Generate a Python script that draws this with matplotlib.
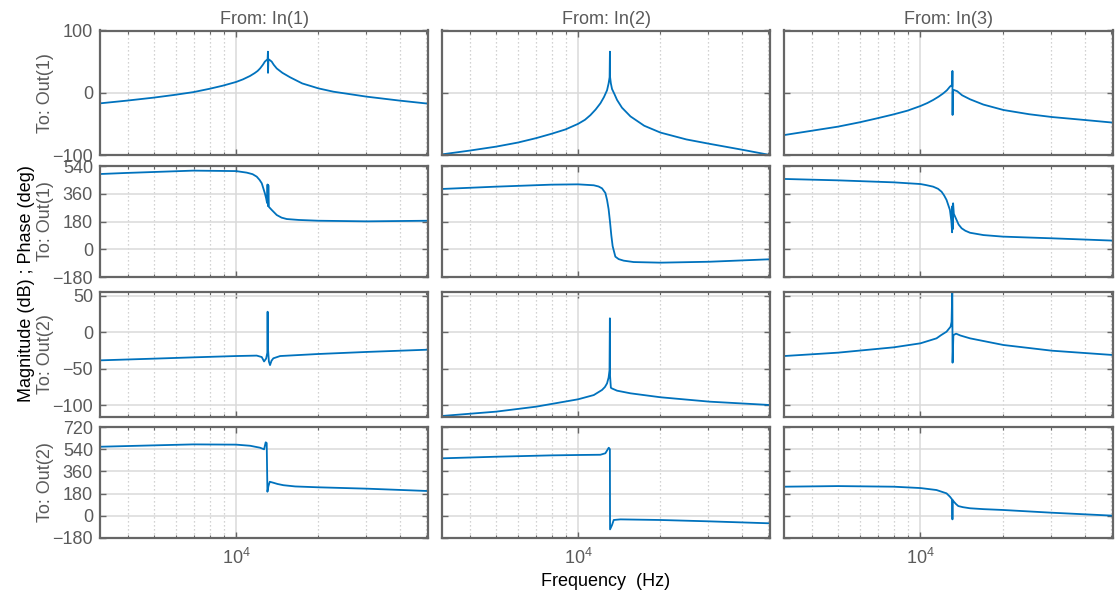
import matplotlib
matplotlib.use("Agg")
import matplotlib.pyplot as plt
from matplotlib.ticker import LogLocator, NullFormatter, FixedLocator, LogFormatterSciNotation

plt.rcParams['font.family'] = ['Liberation Sans', 'DejaVu Sans']
plt.rcParams['mathtext.fontset'] = 'custom'
plt.rcParams['mathtext.rm'] = 'Liberation Sans'

# ---- column / row labels ----
inputs = ['From: In(1)', 'From: In(2)', 'From: In(3)']
outputs = ['To: Out(1)', 'To: Out(1)', 'To: Out(2)', 'To: Out(2)']

# ---- Out(1) magnitude (dB) ----
f_mag11 = [3170, 3963, 4969, 5933, 6970, 7980, 8932, 10000, 10600, 11260, 11700, 12000, 12250,
           12550, 12760, 12950, 13060, 13095, 13105, 13150, 13300, 13520, 13750, 14110, 14800,
           15800, 17500, 20080, 22780, 30200, 40040, 50700]
mag11 = [-17, -12.7, -7.9, -3.5, 1.0, 6.3, 11.3, 17.3, 21.5, 27, 31.5, 35, 39,
         45, 50, 52.5, 54, 66, 32, 54, 52.5, 50, 45, 39, 32,
         24.8, 15, 7, 1.7, -6.3, -12.7, -17.5]

f_mag12 = [3165, 3987, 4995, 6013, 7004, 7980, 8984, 10000, 10600, 11100, 11600, 12080, 12450,
           12780, 12950, 13060, 13095, 13105, 13200, 13330, 13600, 13910, 14500, 15580, 17500,
           20080, 25000, 30370, 40600, 50700]
mag12 = [-99, -93, -86.6, -80, -73, -66, -59, -50, -43.5, -36, -27, -17, -7,
         4, 15, 25, 66, 26, 15, 6, -2, -11.6, -24, -38, -53,
         -64, -75, -82, -92, -100]

f_mag13 = [3165, 3952, 4981, 5984, 6951, 7980, 8958, 10000, 10600, 11130, 11650, 12120, 12500,
           12820, 13000, 13080, 13095, 13110, 13130, 13250, 13630, 14200, 15190, 17000, 20130,
           25000, 30290, 40500, 50700]
mag13 = [-68, -61.4, -54.5, -47.5, -41, -34.7, -28.8, -21.3, -16.5, -11.6, -6.3, -1, 4,
         9.8, 12, 10, 35, -35.7, 2, 4.5, 2.5, -4, -10.5, -19, -27.7,
         -34.5, -39, -44, -48]

# ---- Out(1) phase (deg) ----
f_ph11 = [3170, 3963, 4969, 6970, 10000, 10945, 11500, 11911, 12200, 12430, 12760, 12900, 13000,
          13050, 13100, 13140, 13200, 13523, 14110, 14700, 15355, 17000, 20077, 30200, 50700]
ph11 = [488, 495, 501, 510, 507, 497, 487, 471, 450, 428, 363, 330, 300,
        420, 280, 415, 275, 255, 222, 205, 196, 190, 185, 181, 185]

f_ph12 = [3165, 4995, 7980, 10000, 11420, 11900, 12250, 12600, 12780, 12950, 13100, 13250, 13400,
          13710, 14100, 14710, 16000, 20080, 30370, 50700]
ph12 = [391, 406, 419, 421, 415, 407, 395, 365, 320, 260, 180, 90, 20,
        -48, -64, -74, -83, -87, -81, -65]

f_ph13 = [3165, 4981, 7980, 10000, 10500, 11130, 11600, 11950, 12200, 12460, 12820, 12980, 13060,
          13090, 13120, 13170, 13250, 13560, 13800, 14150, 14600, 15190, 17000, 20000, 25000,
          30300, 50700]
ph13 = [456, 447, 434, 423, 416, 406, 392, 373, 350, 320, 255, 180, 110,
        280, 130, 298, 230, 190, 160, 136, 120, 107, 92, 82, 76,
        71, 56]

# ---- Out(2) magnitude (dB) ----
f_mag21 = [3170, 4969, 6970, 10000, 11911, 12430, 12675, 12900, 13030, 13060, 13090, 13200,
           13330, 13500, 13712, 14520, 20077, 30200, 50700]
mag21 = [-38.5, -36.2, -34.4, -32.6, -32, -34, -40, -36, -28, 28, -20, -40,
         -45, -39, -35.7, -32.6, -29.8, -27, -23.9]

f_mag22 = [3165, 4995, 7004, 10000, 11420, 12250, 12550, 12780, 12950, 13050, 13090, 13110,
           13200, 13330, 13910, 15580, 20080, 30370, 50700]
mag22 = [-114.6, -108.7, -101.9, -91.8, -86, -79, -75, -70, -62, -52, 19, -60,
         -76, -77, -80, -83.6, -89, -95, -99.6]

f_mag23 = [3165, 4981, 7980, 10000, 11450, 11900, 12460, 12890, 13000, 13080, 13110, 13200,
           13500, 14000, 15190, 20130, 30290, 50700]
mag23 = [-32.6, -28, -20.7, -15.2, -8.4, -4, 0.7, 7.5, 14, 60, -41.7, -4,
         -2, -4.5, -8.4, -17.5, -25.3, -31.2]

# ---- Out(2) phase (deg) ----
f_ph21 = [3170, 4969, 6970, 10000, 11259, 12253, 12675, 12850, 12960, 13040, 13150, 13300,
          13712, 14200, 14935, 16500, 20077, 30200, 50700]
ph21 = [560, 571, 579, 577, 568, 552, 539, 596, 590, 195, 240, 276,
        268, 258, 248, 238, 231, 220, 201]

f_ph22 = [3165, 4995, 7980, 10000, 12080, 12600, 12966, 13090, 13110, 13330, 13523, 14310,
          20080, 30370, 50700]
ph22 = [466, 479, 490, 493, 495, 507, 552, 540, -110, -75, -34, -29,
        -34, -45, -61]

f_ph23 = [3165, 4981, 7980, 10000, 11450, 12460, 12820, 12980, 13080, 13095, 13110, 13260,
          13500, 13757, 14300, 15190, 17000, 20130, 30290, 50700]
ph23 = [236, 241, 236, 225, 209, 182, 155, 140, 130, -29, 128, 114,
        95, 79, 70, 61, 54, 47, 25, 1]

panels = [
    [(f_mag11, mag11), (f_mag12, mag12), (f_mag13, mag13)],
    [(f_ph11, ph11), (f_ph12, ph12), (f_ph13, ph13)],
    [(f_mag21, mag21), (f_mag22, mag22), (f_mag23, mag23)],
    [(f_ph21, ph21), (f_ph22, ph22), (f_ph23, ph23)],
]

row_ylim = [(-100, 100), (-180, 540), (-116, 55), (-180, 720)]
row_yticks = [[-100, 0, 100], [-180, 0, 180, 360, 540],
              [-100, -50, 0, 50], [-180, 0, 180, 360, 540, 720]]
xlim = (3165, 50700)

W, H = 1115, 603
col_px = [(100, 428), (442, 770), (784, 1113)]
row_px = [(30.5, 155), (166, 277), (292, 417), (427, 538)]

line_color = '#0072BD'
frame_color = '#666666'
text_gray = '#5a5a5a'

fig = plt.figure(figsize=(W / 100, H / 100), dpi=100)

for r in range(4):
    for c in range(3):
        x0, x1 = col_px[c]
        y0, y1 = row_px[r]
        ax = fig.add_axes([x0 / W, 1 - y1 / H, (x1 - x0) / W, (y1 - y0) / H])
        f, v = panels[r][c]
        ax.plot(f, v, color=line_color, lw=1.3)
        ax.set_xscale('log')
        ax.set_xlim(*xlim)
        ax.set_ylim(*row_ylim[r])
        ax.yaxis.set_major_locator(FixedLocator(row_yticks[r]))
        ax.xaxis.set_major_locator(LogLocator(base=10, numticks=10))
        ax.xaxis.set_minor_locator(LogLocator(base=10, subs=range(2, 10), numticks=20))
        ax.xaxis.set_minor_formatter(NullFormatter())
        if r == 3:
            ax.xaxis.set_major_formatter(LogFormatterSciNotation())
        else:
            ax.xaxis.set_major_formatter(NullFormatter())
        if c != 0:
            ax.set_yticklabels([])
        ax.grid(True, which='major', color='#dadada', lw=1.1, ls='-')
        ax.grid(True, which='minor', axis='x', color='#c4c4c4', lw=0.9, ls=(0, (1, 2.2)))
        ax.set_axisbelow(True)
        for s in ax.spines.values():
            s.set_color(frame_color)
            s.set_linewidth(1.6)
        ax.tick_params(which='both', direction='in', top=True, right=True,
                       color=frame_color, labelcolor=text_gray, labelsize=13)
        ax.tick_params(which='major', length=4, width=1)
        ax.tick_params(which='minor', length=2.5, width=0.8)
        ax.tick_params(axis='y', pad=5)
        ax.tick_params(axis='x', pad=7)
        if r == 0:
            ax.set_title(inputs[c], color=text_gray, fontsize=13, pad=5)
        if c == 0:
            fig.text(45 / W, 1 - (y0 + y1) / 2 / H, outputs[r], rotation=90,
                     ha='center', va='center', color=text_gray, fontsize=13)

fig.text(27 / W, 1 - 284 / H, 'Magnitude (dB) ; Phase (deg)', rotation=90,
         ha='center', va='center', color='black', fontsize=13)
fig.text(606 / W, 1 - 581 / H, 'Frequency  (Hz)', ha='center', va='center',
         color='black', fontsize=13)

fig.savefig('out.png', dpi=100, facecolor='white')
